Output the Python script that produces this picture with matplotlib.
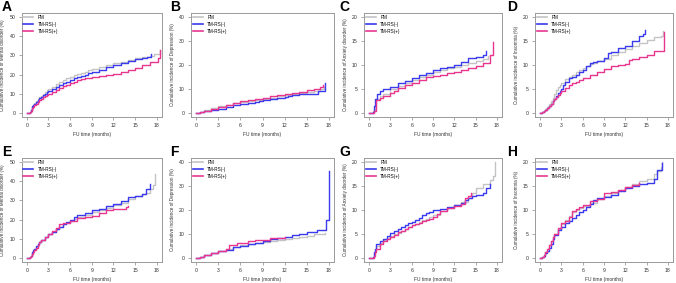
import matplotlib
matplotlib.use("Agg")
import matplotlib.pyplot as plt

plt.rcParams['font.family'] = ['Liberation Sans', 'DejaVu Sans']

# ---------------- data ----------------
# panel A: mental disorder (top row)
A_pm_t = [0, 0.5, 0.6, 0.7, 0.8, 0.9, 1.0, 1.25, 1.5, 1.75, 2.0, 2.25, 2.5, 2.75, 3.0, 3.5, 4.0, 4.5, 5.0, 5.5, 6.0, 6.5, 7.0, 7.5, 8.0, 8.5, 9.0, 10, 11, 12, 13, 14, 15, 16, 17, 17.6, 18.4, 18.5]
A_pm_v = [0, 0.5, 1.5, 2.2, 3.0, 4.2, 5.5, 6.5, 7.5, 8.3, 9.0, 10.0, 11.0, 11.8, 12.5, 13.8, 15.0, 16.0, 17.0, 18.0, 18.8, 19.7, 20.5, 21.0, 21.5, 22.3, 23.0, 24.0, 25.0, 26.0, 26.8, 27.8, 28.6, 29.3, 29.8, 30.5, 31.0, 33.0]
A_neg_t = [0, 0.5, 0.6, 0.7, 0.8, 0.9, 1.0, 1.25, 1.5, 1.75, 2.0, 2.25, 2.5, 2.75, 3.0, 3.5, 4.0, 4.5, 5.0, 5.5, 6.0, 6.5, 7.0, 7.5, 8.0, 8.5, 9.0, 10, 11, 12, 13, 14, 15, 16, 16.6, 17.2]
A_neg_v = [0, 0.5, 1.5, 2.5, 3.5, 4.3, 5.0, 6.0, 7.0, 7.8, 8.5, 9.3, 10.0, 10.8, 11.5, 12.5, 13.5, 14.5, 15.5, 16.3, 17.0, 18.0, 18.8, 19.5, 20.0, 20.8, 21.5, 22.5, 23.8, 25.0, 26.0, 27.0, 28.0, 28.5, 29.0, 30.5]
A_pos_t = [0, 0.5, 0.6, 0.7, 0.8, 0.9, 1.0, 1.25, 1.5, 1.75, 2.0, 2.25, 2.5, 2.75, 3.0, 3.5, 4.0, 4.5, 5.0, 5.5, 6.0, 6.5, 7.0, 7.5, 8.0, 8.5, 9.0, 10, 11, 12, 13, 14, 15, 16, 17, 18.2, 18.5]
A_pos_v = [0, 0.5, 1.0, 1.7, 2.5, 3.3, 4.0, 5.0, 6.0, 6.8, 7.5, 8.3, 9.0, 9.5, 10.0, 11.0, 12.0, 13.0, 14.0, 14.8, 15.5, 16.3, 17.0, 17.5, 18.0, 18.3, 18.7, 19.2, 19.7, 20.5, 21.5, 22.5, 23.5, 25.0, 26.5, 28.5, 33.0]

# panel B: depression
B_pm_t = [0, 0.5, 1.0, 2.0, 3.0, 4.0, 5.0, 6.0, 7.0, 8.0, 9.0, 10.0, 11.0, 12.0, 13.0, 14.0, 15.0, 16.0, 16.8, 17.3]
B_pm_v = [0, 0.5, 1.5, 2.2, 2.8, 3.5, 4.2, 4.7, 5.2, 5.6, 6.0, 6.5, 7.0, 7.5, 8.0, 8.3, 8.6, 9.0, 10.0, 11.0]
B_neg_t = [0, 0.5, 1.0, 2.0, 3.0, 4.0, 5.0, 6.0, 7.0, 8.0, 8.5, 9.0, 10.0, 11.0, 12.0, 12.5, 13.0, 14.0, 15.0, 16.5, 17.5]
B_neg_v = [0, 0.4, 0.8, 1.3, 1.8, 2.5, 3.2, 3.8, 4.2, 4.5, 5.0, 5.5, 5.8, 6.2, 6.7, 7.3, 7.6, 7.8, 8.0, 9.2, 12.5]
B_pos_t = [0, 0.5, 1.0, 2.0, 3.0, 4.0, 5.0, 6.0, 7.0, 8.0, 9.0, 10.0, 11.0, 12.0, 13.0, 14.0, 15.0, 16.0, 16.8, 17.2]
B_pos_v = [0, 0.5, 1.0, 1.8, 2.5, 3.3, 4.2, 4.9, 5.3, 5.8, 6.4, 7.0, 7.4, 7.8, 8.2, 8.8, 9.5, 10.2, 10.8, 11.9]

# panel C: anxiety disorder
C_pm_t = [0, 0.6, 0.8, 1.0, 1.5, 2.0, 3.0, 4.0, 5.0, 6.0, 7.0, 8.0, 9.0, 10.0, 11.0, 12.0, 13.0, 14.0, 15.0, 16.0, 16.7]
C_pm_v = [0, 0.5, 1.5, 3.0, 3.5, 4.0, 5.0, 5.6, 6.2, 6.8, 7.5, 8.0, 8.6, 9.0, 9.3, 9.6, 10.0, 10.4, 10.8, 11.3, 11.8]
C_neg_t = [0, 0.5, 0.7, 0.8, 1.1, 1.5, 2.0, 3.0, 4.0, 5.0, 6.0, 7.0, 8.0, 9.0, 10.0, 11.0, 12.0, 13.0, 14.0, 15.0, 16.0, 16.4]
C_neg_v = [0, 0.3, 1.5, 3.0, 4.0, 4.5, 5.0, 5.5, 6.2, 6.7, 7.3, 8.0, 8.4, 9.0, 9.3, 9.6, 10.0, 10.7, 11.4, 11.7, 12.1, 12.9]
C_pos_t = [0, 0.7, 0.9, 1.0, 1.5, 2.0, 3.0, 3.5, 4.0, 5.0, 6.0, 7.0, 8.0, 9.0, 10.0, 11.0, 12.0, 13.0, 14.0, 15.0, 16.0, 17.0, 17.4]
C_pos_v = [0, 0.5, 1.5, 2.8, 3.2, 3.5, 4.1, 4.5, 5.3, 5.8, 6.3, 6.9, 7.5, 7.8, 8.0, 8.3, 8.6, 9.0, 9.3, 9.8, 10.5, 12.0, 14.8]

# panel D: insomnia
D_pm_t = [0, 0.3, 0.5, 0.75, 1.0, 1.25, 1.5, 1.75, 2.0, 2.25, 2.5, 2.75, 3.0, 3.5, 4.0, 4.5, 5.0, 5.5, 6.0, 6.5, 7.0, 7.5, 8.0, 9.0, 10.0, 11.0, 12.0, 13.0, 14.0, 15.0, 16.0, 17.0, 17.3]
D_pm_v = [0, 0.3, 0.5, 0.8, 1.2, 1.8, 2.5, 3.2, 4.0, 4.8, 5.5, 5.9, 6.2, 7.0, 7.6, 8.0, 8.5, 8.9, 9.3, 9.8, 10.2, 10.5, 10.8, 11.3, 12.0, 12.7, 13.4, 14.0, 14.6, 15.2, 15.8, 16.0, 17.0]
D_neg_t = [0, 0.3, 0.5, 0.75, 1.0, 1.25, 1.5, 1.75, 2.0, 2.25, 2.5, 2.75, 3.0, 3.25, 3.5, 4.0, 4.5, 5.0, 5.5, 6.0, 6.5, 7.0, 7.5, 8.0, 9.0, 9.5, 10.0, 11.0, 12.0, 13.0, 14.0, 14.5, 14.8]
D_neg_v = [0, 0.2, 0.4, 0.7, 1.0, 1.5, 2.0, 2.5, 3.0, 3.6, 4.2, 4.6, 5.0, 5.8, 6.5, 7.2, 7.6, 8.0, 8.5, 9.0, 9.8, 10.5, 10.7, 10.8, 11.5, 12.5, 12.8, 13.5, 14.0, 15.0, 16.0, 16.5, 17.3]
D_pos_t = [0, 0.3, 0.5, 0.75, 1.0, 1.25, 1.5, 1.75, 2.0, 2.25, 2.5, 2.75, 3.0, 3.5, 4.0, 4.5, 5.0, 5.5, 6.0, 7.0, 8.0, 9.0, 10.0, 11.0, 12.0, 12.5, 13.0, 14.0, 15.0, 16.0, 17.5]
D_pos_v = [0, 0.2, 0.4, 0.7, 1.0, 1.5, 2.0, 2.5, 3.0, 3.4, 3.8, 4.2, 4.5, 5.2, 5.8, 6.2, 6.5, 6.9, 7.3, 8.0, 8.6, 9.1, 9.7, 10.0, 10.3, 11.0, 11.3, 11.6, 12.0, 12.9, 16.8]

# panel E: mental disorder (bottom row)
E_pm_t = [0, 0.5, 0.6, 0.7, 0.8, 0.9, 1.0, 1.25, 1.5, 1.75, 2.0, 2.5, 3.0, 3.5, 4.0, 4.5, 5.0, 5.5, 6.0, 6.5, 7.0, 8.0, 9.0, 10, 11, 12, 13, 14, 15, 16, 16.5, 17, 17.5, 17.8]
E_pm_v = [0, 0.5, 1.2, 1.8, 2.5, 3.5, 4.5, 6.0, 7.5, 8.5, 9.5, 11.0, 12.5, 13.8, 15.0, 16.3, 17.5, 18.5, 19.5, 20.5, 21.5, 22.5, 24.0, 25.0, 26.2, 27.5, 28.8, 30.5, 32.5, 33.5, 34.0, 36.0, 38.0, 43.5]
E_neg_t = [0, 0.5, 0.6, 0.7, 0.8, 0.9, 1.0, 1.25, 1.5, 1.75, 2.0, 2.5, 3.0, 3.5, 4.0, 4.5, 5.0, 5.5, 6.0, 6.5, 7.0, 8.0, 9.0, 10, 11, 12, 13, 14, 15, 16, 16.5, 17]
E_neg_v = [0, 0.5, 1.3, 2.2, 3.0, 4.0, 5.0, 6.3, 7.5, 8.5, 9.5, 11.0, 12.5, 13.8, 15.0, 16.3, 17.5, 18.8, 20.0, 21.3, 22.5, 23.5, 25.0, 25.5, 27.0, 28.0, 29.5, 31.5, 32.5, 33.5, 36.0, 38.5]
E_pos_t = [0, 0.5, 0.6, 0.7, 0.8, 0.9, 1.0, 1.25, 1.5, 1.75, 2.0, 2.5, 3.0, 3.5, 4.0, 4.5, 5.0, 6.0, 7.0, 8.0, 9.0, 10, 11, 12, 13, 13.7, 14]
E_pos_v = [0, 0.5, 1.0, 1.5, 2.0, 3.0, 4.0, 5.5, 7.0, 8.3, 9.5, 11.0, 12.5, 14.0, 15.5, 17.5, 18.0, 19.5, 21.0, 21.5, 22.0, 23.5, 25.0, 25.5, 25.5, 26.5, 27.2]

# panel F: depression
F_pm_t = [0, 0.5, 1.0, 2.0, 3.0, 4.0, 5.0, 6.0, 7.0, 8.0, 9.0, 10.0, 11.0, 12.0, 13.0, 14.0, 15.0, 16.0, 17.5]
F_pm_v = [0, 0.5, 1.5, 2.3, 3.0, 3.8, 4.7, 5.5, 5.9, 6.3, 6.8, 7.2, 7.6, 8.0, 8.3, 8.7, 9.0, 10.0, 10.5]
F_neg_t = [0, 0.5, 1.0, 2.0, 3.0, 4.0, 5.0, 6.0, 7.0, 8.0, 9.0, 10.0, 11.0, 12.0, 13.0, 14.0, 15.0, 16.4, 17.6, 18.0]
F_neg_v = [0, 0.5, 1.5, 2.3, 2.8, 3.5, 4.5, 5.2, 6.0, 6.5, 7.0, 8.0, 8.5, 8.8, 9.5, 10.2, 11.0, 11.5, 16.0, 36.0]
F_pos_t = [0, 0.5, 1.0, 2.0, 3.0, 4.0, 4.5, 5.5, 6.0, 7.0, 8.0, 9.0, 10.0, 11.0, 12.0]
F_pos_v = [0, 0.5, 1.5, 2.3, 3.0, 4.0, 5.5, 6.3, 6.5, 7.2, 7.5, 7.5, 8.3, 8.5, 8.8]

# panel G: anxiety disorder
G_pm_t = [0, 0.7, 0.85, 1.0, 1.5, 2.0, 2.5, 3.0, 3.5, 4.0, 4.5, 5.0, 5.5, 6.0, 6.5, 7.0, 7.5, 8.0, 8.5, 9.0, 10.0, 11.0, 12.0, 13.0, 14.0, 14.5, 15.0, 16.0, 17.0, 17.5, 17.8]
G_pm_v = [0, 1.0, 1.8, 2.5, 3.2, 3.7, 4.2, 4.6, 5.0, 5.3, 5.6, 6.0, 6.4, 6.8, 7.1, 7.5, 7.9, 8.2, 8.6, 9.0, 9.8, 10.5, 11.0, 11.7, 12.5, 13.5, 14.5, 15.5, 16.2, 17.0, 20.0]
G_neg_t = [0, 0.5, 0.65, 0.8, 1.0, 1.5, 2.0, 2.5, 3.0, 3.5, 4.0, 4.5, 5.0, 5.5, 6.0, 6.5, 7.0, 7.5, 8.0, 8.5, 9.0, 10.0, 11.0, 12.0, 13.0, 13.5, 14.0, 14.5, 15.0, 16.0, 16.5, 17.0]
G_neg_v = [0, 0.3, 1.2, 2.0, 3.0, 3.5, 4.0, 4.7, 5.2, 5.6, 6.0, 6.4, 6.8, 7.2, 7.5, 7.9, 8.3, 8.9, 9.3, 9.6, 10.0, 10.3, 10.7, 11.0, 11.5, 12.0, 12.5, 12.9, 13.2, 13.5, 14.5, 15.5]
G_pos_t = [0, 0.7, 0.85, 1.0, 1.5, 2.0, 2.5, 3.0, 3.5, 4.0, 4.5, 5.0, 5.5, 6.0, 6.5, 7.0, 7.5, 8.0, 8.5, 9.0, 9.5, 10.0, 11.0, 12.0, 13.0, 13.5, 14.0, 14.4]
G_pos_v = [0, 0.5, 1.2, 2.0, 3.0, 3.5, 3.9, 4.3, 4.8, 5.5, 5.7, 6.0, 6.4, 6.8, 7.0, 7.3, 7.7, 8.0, 8.2, 8.5, 9.2, 9.8, 10.5, 10.8, 11.3, 12.5, 13.0, 13.5]

# panel H: insomnia
H_pm_t = [0, 0.3, 0.5, 0.75, 1.0, 1.25, 1.5, 1.75, 2.0, 2.5, 3.0, 3.5, 4.0, 4.5, 5.0, 5.5, 6.0, 7.0, 8.0, 9.0, 10.0, 11.0, 12.0, 13.0, 14.0, 15.0, 16.0, 16.5, 17.0, 17.2]
H_pm_v = [0, 0.3, 0.7, 1.3, 2.0, 2.7, 3.5, 4.3, 5.0, 6.0, 7.0, 8.0, 8.8, 9.5, 10.0, 10.4, 10.8, 11.5, 12.3, 13.0, 13.5, 14.2, 14.8, 15.3, 16.0, 16.5, 17.5, 18.2, 19.0, 20.0]
H_neg_t = [0, 0.3, 0.5, 0.75, 1.0, 1.25, 1.5, 1.75, 2.0, 2.5, 3.0, 3.5, 4.0, 4.5, 5.0, 5.5, 6.0, 6.5, 7.0, 7.5, 8.0, 9.0, 10.0, 11.0, 12.0, 13.0, 14.0, 15.0, 16.0, 16.5, 17.2]
H_neg_v = [0, 0.2, 0.5, 1.0, 1.5, 2.2, 3.0, 3.9, 4.8, 5.8, 6.5, 7.2, 7.8, 8.4, 9.0, 9.5, 10.0, 10.7, 11.3, 12.0, 12.5, 12.8, 13.2, 14.0, 14.5, 15.0, 15.5, 15.7, 16.5, 18.3, 19.8]
H_pos_t = [0, 0.3, 0.5, 0.75, 1.0, 1.25, 1.5, 1.75, 2.0, 2.5, 3.0, 3.5, 4.0, 4.5, 5.0, 5.5, 6.0, 7.0, 8.0, 9.0, 10.0, 11.0, 12.0, 13.0, 14.0]
H_pos_v = [0, 0.3, 0.7, 1.3, 2.0, 2.7, 3.5, 4.3, 5.0, 6.2, 7.2, 7.8, 8.5, 9.8, 10.2, 10.6, 11.0, 11.8, 12.3, 13.5, 13.8, 14.2, 14.7, 15.2, 15.7]

group_names = ['PM', 'TM-RS(-)', 'TM-RS(+)']
outcomes = ['Mental disorder', 'Depression', 'Anxiety disorder', 'Insomnia']
y_max = [50, 40, 20, 20]
y_step = [10, 10, 5, 5]
x_ticks = [0, 3, 6, 9, 12, 15, 18]

panels = [
    ('A', [(A_pm_t, A_pm_v), (A_neg_t, A_neg_v), (A_pos_t, A_pos_v)]),
    ('B', [(B_pm_t, B_pm_v), (B_neg_t, B_neg_v), (B_pos_t, B_pos_v)]),
    ('C', [(C_pm_t, C_pm_v), (C_neg_t, C_neg_v), (C_pos_t, C_pos_v)]),
    ('D', [(D_pm_t, D_pm_v), (D_neg_t, D_neg_v), (D_pos_t, D_pos_v)]),
    ('E', [(E_pm_t, E_pm_v), (E_neg_t, E_neg_v), (E_pos_t, E_pos_v)]),
    ('F', [(F_pm_t, F_pm_v), (F_neg_t, F_neg_v), (F_pos_t, F_pos_v)]),
    ('G', [(G_pm_t, G_pm_v), (G_neg_t, G_neg_v), (G_pos_t, G_pos_v)]),
    ('H', [(H_pm_t, H_pm_v), (H_neg_t, H_neg_v), (H_pos_t, H_pos_v)]),
]

# ---------------- layout / style ----------------
W, H = 676, 283
colors = ['#c4c4c4', '#3a3aee', '#e8368f']
axis_grey = '#9a9a9a'
text_col = '#333333'

# plot boxes in pixels: (left, right), rows: (top, bottom)
col_px = [(21.5, 162), (191, 334), (364, 502), (535, 673)]
row_px = [(13, 117), (158, 262)]
letter_x = [2, 170, 339, 507]
letter_y = [0, 145]

fig = plt.figure(figsize=(W / 100, H / 100), dpi=100)

for i, (letter, curves) in enumerate(panels):
    row, col = divmod(i, 4)
    l, r = col_px[col]
    top, bot = row_px[row]
    ax = fig.add_axes([l / W, 1 - bot / H, (r - l) / W, (bot - top) / H])

    for (t, v), c, name in zip(curves, colors, group_names):
        ax.step(t, v, where='post', color=c, lw=1.0, label=name)

    ym = y_max[col]
    ax.set_xlim(-0.72, 18.72)
    ax.set_ylim(-0.04 * ym, 1.04 * ym)
    ax.set_xticks(x_ticks)
    ax.set_yticks(range(0, ym + 1, y_step[col]))
    ax.tick_params(axis='both', length=2.5, width=0.6, color=axis_grey,
                   labelsize=3.7, labelcolor=text_col, pad=2)
    for s in ax.spines.values():
        s.set_color(axis_grey)
        s.set_linewidth(0.7)

    ax.set_xlabel('FU time (months)', fontsize=3.5, color=text_col, labelpad=3)
    ax.set_ylabel(f'Cumulative incidence of {outcomes[col]} (%)', fontsize=3.3,
                  color=text_col, labelpad=3)

    leg = ax.legend(loc='upper left', frameon=False, fontsize=3.3,
                    handlelength=2.2, handletextpad=1.0, labelspacing=0.45,
                    borderaxespad=0.15, borderpad=0.2)
    for line in leg.get_lines():
        line.set_linewidth(1.2)

    fig.text(letter_x[col] / W, 1 - letter_y[row] / H, letter, fontsize=10,
             fontweight='bold', ha='left', va='top', color='black')

fig.savefig('out.png', dpi=100)
